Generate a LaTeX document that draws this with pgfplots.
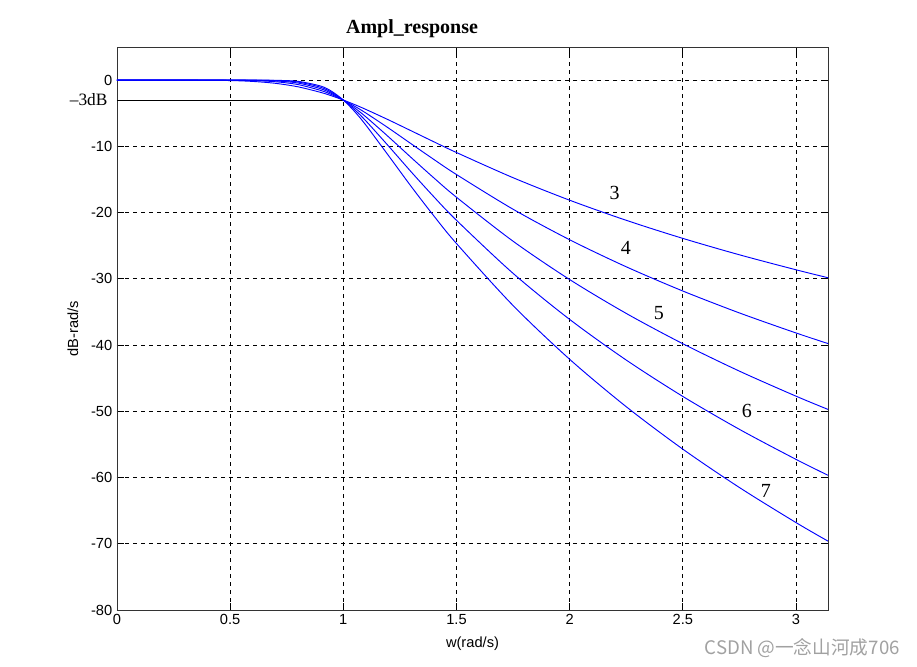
\documentclass[border=0pt]{standalone}
\usepackage{pgfplots}
\pgfplotsset{compat=1.18}
\usepackage{pgfplotstable}
\usepackage{fontspec}
\setmainfont{Liberation Sans}
\newfontfamily\tnr{Liberation Serif}
\newfontfamily\cjk{Noto Sans CJK SC}
\pgfplotstableread{
w     n3      n4      n5      n6      n7
0     0       0       0       0       0
0.3   -0.003  -0.0003 0       0       0
0.5   -0.067  -0.017  -0.004  -0.001  -0.0003
0.6   -0.198  -0.072  -0.026  -0.009  -0.003
0.7   -0.483  -0.243  -0.121  -0.060  -0.029
0.8   -1.011  -0.673  -0.443  -0.289  -0.187
0.9   -1.851  -1.555  -1.299  -1.080  -0.895
0.95  -2.393  -2.210  -2.038  -1.876  -1.725
1.0   -3.010  -3.010  -3.010  -3.010  -3.010
1.05  -3.692  -3.940  -4.198  -4.465  -4.742
1.1   -4.427  -4.974  -5.556  -6.168  -6.810
1.2   -6.005  -7.243  -8.568  -9.963  -11.411
1.3   -7.654  -9.618  -11.698 -13.856 -16.061
1.4   -9.309  -11.975 -14.760 -17.611 -20.497
1.5   -10.931 -14.254 -17.684 -21.164 -24.668
1.75  -14.731 -19.492 -24.320 -29.170 -34.028
2.0   -18.129 -24.099 -30.107 -36.125 -42.144
2.25  -21.164 -28.181 -35.220 -42.262 -49.305
2.5   -23.894 -31.838 -39.795 -47.753 -55.712
2.75  -26.370 -35.148 -43.934 -52.720 -61.503
3.0   -28.633 -38.170 -47.712 -57.254 -66.797
3.1416 -29.834 -39.772 -49.715 -59.658 -69.601
}\bw
\begin{document}
\begin{tikzpicture}
\useasboundingbox (-87.75pt,-42.75pt) rectangle (600pt,457.5pt);
\begin{axis}[
  scale only axis,
  width=533.25pt, height=422.25pt,
  xmin=0, xmax=3.1416, ymin=-80, ymax=5,
  xtick={0,0.5,1,1.5,2,2.5,3},
  xticklabels={0,0.5,1,1.5,2,2.5,3},
  ytick={-80,-70,-60,-50,-40,-30,-20,-10,0},
  yticklabels={-80,-70,-60,-50,-40,-30,-20,-10,0},
  tick align=inside,
  xtick pos=both, ytick pos=both,
  major tick length=5pt,
  grid=major,
  major grid style={black, dashed, line width=0.6pt},
  axis line style={black!80, line width=0.7pt},
  tick style={black, line width=0.6pt},
  tick label style={font=\fontsize{11}{13}\selectfont},
  /pgf/number format/assume math mode=true,
  xlabel={w(rad/s)}, ylabel={dB-rad/s},
  label style={font=\fontsize{11}{13}\selectfont},
  xlabel style={at={(axis description cs:0.5,0)}, anchor=center, yshift=-25pt},
  ylabel style={at={(axis description cs:-0.0619,0.5)}, anchor=center},
  title={\tnr\bfseries Ampl\_response},
  title style={at={(axis description cs:0.415,1)}, anchor=center, yshift=7.5pt, font=\fontsize{15}{18}\selectfont},
  clip=true,
]
\addplot[black, line width=0.6pt] coordinates {(0,-3) (1,-3)};
\addplot[blue, line width=0.7pt, smooth] table[x=w, y=n3] {\bw};
\addplot[blue, line width=0.7pt, smooth] table[x=w, y=n4] {\bw};
\addplot[blue, line width=0.7pt, smooth] table[x=w, y=n5] {\bw};
\addplot[blue, line width=0.7pt, smooth] table[x=w, y=n6] {\bw};
\addplot[blue, line width=0.7pt, smooth] table[x=w, y=n7] {\bw};
\node[font=\tnr\fontsize{15}{17}\selectfont] at (axis cs:2.199,-17.1) {3};
\node[font=\tnr\fontsize{15}{17}\selectfont] at (axis cs:2.248,-25.4) {4};
\node[font=\tnr\fontsize{15}{17}\selectfont] at (axis cs:2.394,-35.2) {5};
\node[font=\tnr\fontsize{15}{17}\selectfont, fill=white, inner sep=2pt] at (axis cs:2.783,-50.0) {6};
\node[font=\tnr\fontsize{15}{17}\selectfont] at (axis cs:2.867,-62.1) {7};
\end{axis}
\node[font=\tnr\fontsize{13}{15}\selectfont, anchor=east, inner sep=0pt] at (-7pt,{(80-3)/85*422.25pt}) {\textendash3dB};
\node[font=\cjk\fontsize{14}{16}\selectfont, text=black!37, anchor=east, inner sep=0pt] at (587.25pt,-28.5pt) {CSDN @一念山河成706};
\end{tikzpicture}
\end{document}
